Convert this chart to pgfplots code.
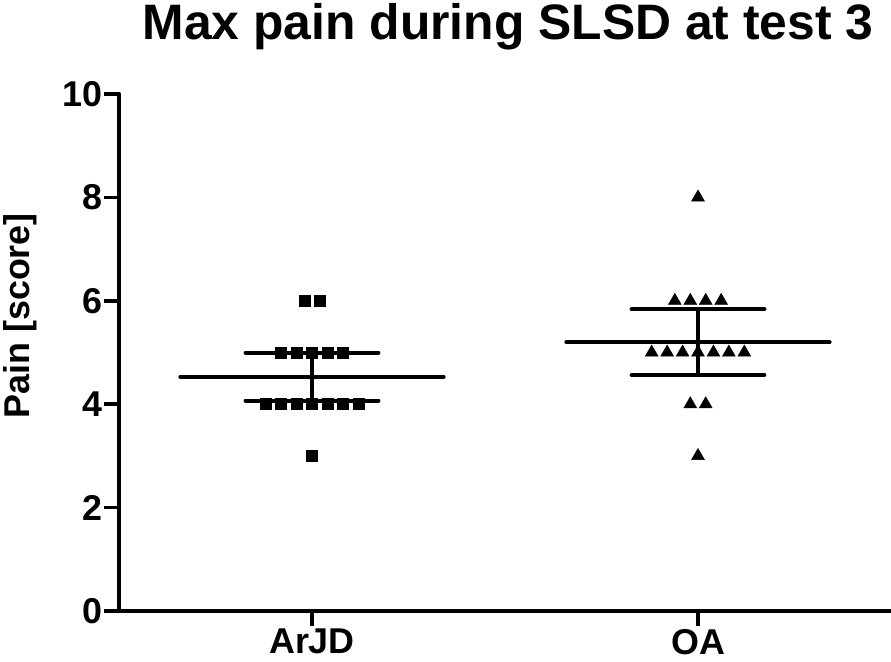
\documentclass[border=0pt]{standalone}
\usepackage{pgfplots}
\pgfplotsset{compat=1.18}
\usepackage{fontspec}
\setmainfont{Liberation Sans}

\pgfplotstableread{
x y
-0.02 6
0.02 6
-0.08 5
-0.04 5
0 5
0.04 5
0.08 5
-0.12 4
-0.08 4
-0.04 4
0 4
0.04 4
0.08 4
0.12 4
0 3
}\arjd

\pgfplotstableread{
x y
1 8
0.94 6
0.98 6
1.02 6
1.06 6
0.88 5
0.92 5
0.96 5
1 5
1.04 5
1.08 5
1.12 5
0.98 4
1.02 4
1 3
}\oa

\begin{document}
\begin{tikzpicture}
\begin{axis}[
  at={(119bp,51bp)}, anchor=south west,
  width=772bp, height=517bp, scale only axis,
  xmin=-0.5, xmax=1.5, ymin=0, ymax=10,
  axis x line=bottom, axis y line=left,
  axis line style={line width=4bp, -, line cap=round},
  xtick={0,1}, xticklabels={ArJD,OA},
  ytick={0,2,...,10},
  tick align=outside,
  major tick length=15bp,
  tick style={line width=3.5bp, black},
  /pgf/number format/assume math mode=true,
  tick label style={font=\fontsize{36}{36}\selectfont\bfseries},
  yticklabel style={inner sep=1bp},
  xticklabel style={inner sep=3bp},
  ylabel={Pain [score]},
  ylabel style={at={(axis description cs:-0.106,0.571)}, anchor=south, inner sep=0pt, font=\fontsize{36}{36}\selectfont\bfseries},
  title={Max pain during SLSD at test 3},
  title style={at={(axis description cs:0.504,1)}, anchor=base, yshift=49bp, inner sep=0pt, font=\fontsize{50}{50}\selectfont\bfseries},
  clip=false,
]
% ArJD mean and 95% CI
\addplot[black, line width=4bp, line cap=round] coordinates {(-0.341,4.533) (0.341,4.533)};
\addplot[black, line width=4bp, line cap=round] coordinates {(-0.172,4.996) (0.172,4.996)};
\addplot[black, line width=4bp, line cap=round] coordinates {(-0.172,4.071) (0.172,4.071)};
\addplot[black, line width=4bp] coordinates {(0,4.071) (0,4.996)};
% OA mean and 95% CI
\addplot[black, line width=4bp, line cap=round] coordinates {(0.659,5.2) (1.341,5.2)};
\addplot[black, line width=4bp, line cap=round] coordinates {(0.828,5.835) (1.172,5.835)};
\addplot[black, line width=4bp, line cap=round] coordinates {(0.828,4.565) (1.172,4.565)};
\addplot[black, line width=4bp] coordinates {(1,4.565) (1,5.835)};
% points
\addplot[only marks, mark=square*, mark size=5.5bp, black, mark options={fill=black}] table[x=x,y=y] {\arjd};
\addplot[only marks, mark=triangle*, mark size=7.5bp, black, mark options={fill=black}] table[x=x,y=y] {\oa};
\end{axis}
\pgfresetboundingbox
\path[use as bounding box] (0,0) rectangle (891bp,662bp);
\end{tikzpicture}
\end{document}
